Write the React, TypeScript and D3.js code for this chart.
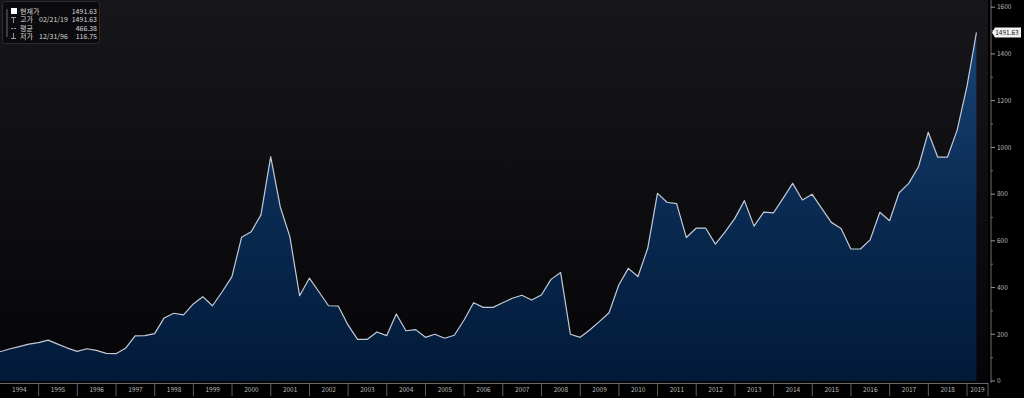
import React from 'react';
import * as d3 from 'd3';

// 분기말 기준 지수 (1993Q4 ~ 2019Q1)
const quarters = [
  '1993Q4',
  '1994Q1', '1994Q2', '1994Q3', '1994Q4',
  '1995Q1', '1995Q2', '1995Q3', '1995Q4',
  '1996Q1', '1996Q2', '1996Q3', '1996Q4',
  '1997Q1', '1997Q2', '1997Q3', '1997Q4',
  '1998Q1', '1998Q2', '1998Q3', '1998Q4',
  '1999Q1', '1999Q2', '1999Q3', '1999Q4',
  '2000Q1', '2000Q2', '2000Q3', '2000Q4',
  '2001Q1', '2001Q2', '2001Q3', '2001Q4',
  '2002Q1', '2002Q2', '2002Q3', '2002Q4',
  '2003Q1', '2003Q2', '2003Q3', '2003Q4',
  '2004Q1', '2004Q2', '2004Q3', '2004Q4',
  '2005Q1', '2005Q2', '2005Q3', '2005Q4',
  '2006Q1', '2006Q2', '2006Q3', '2006Q4',
  '2007Q1', '2007Q2', '2007Q3', '2007Q4',
  '2008Q1', '2008Q2', '2008Q3', '2008Q4',
  '2009Q1', '2009Q2', '2009Q3', '2009Q4',
  '2010Q1', '2010Q2', '2010Q3', '2010Q4',
  '2011Q1', '2011Q2', '2011Q3', '2011Q4',
  '2012Q1', '2012Q2', '2012Q3', '2012Q4',
  '2013Q1', '2013Q2', '2013Q3', '2013Q4',
  '2014Q1', '2014Q2', '2014Q3', '2014Q4',
  '2015Q1', '2015Q2', '2015Q3', '2015Q4',
  '2016Q1', '2016Q2', '2016Q3', '2016Q4',
  '2017Q1', '2017Q2', '2017Q3', '2017Q4',
  '2018Q1', '2018Q2', '2018Q3', '2018Q4',
  '2019Q1',
];

const values = [
  125,
  137, 147, 158, 164,
  175, 158, 141, 127,
  138, 131, 118, 116.75,
  140, 193, 194, 203,
  270, 290, 283, 330,
  361, 322, 382, 447,
  615, 639, 711, 960,
  746, 618, 365, 440,
  382, 322, 321, 240,
  178, 178, 210, 194,
  287, 215, 220, 187,
  200, 183, 196, 261,
  335, 315, 315, 335,
  354, 367, 347, 368,
  435, 464, 200, 187,
  218, 254, 292, 411,
  482, 447, 568, 803,
  765, 759, 614, 654,
  654, 586, 638, 696,
  772, 663, 723, 720,
  782, 846, 775, 799,
  739, 679, 653, 565,
  565, 604, 722, 686,
  806, 846, 917, 1065,
  958, 958, 1074, 1260,
  1491.63,
];

const years = [
  '1994', '1995', '1996', '1997', '1998', '1999', '2000', '2001', '2002',
  '2003', '2004', '2005', '2006', '2007', '2008', '2009', '2010', '2011',
  '2012', '2013', '2014', '2015', '2016', '2017', '2018', '2019',
];

const yTicks = [0, 200, 400, 600, 800, 1000, 1200, 1400, 1600];

const legendRows = [
  { name: '현재가', date: '', value: '1491.63' },
  { name: '고가', date: '02/21/19', value: '1491.63' },
  { name: '평균', date: '', value: '466.38' },
  { name: '저가', date: '12/31/96', value: '116.75' },
];

const lastLabel = '1491.63';

const W = 1024;
const H = 400;
const plotRight = 988;
const plotBottom = 383;
const axisX = 991;
const font = "'Noto Sans CJK KR', 'DejaVu Sans', sans-serif";

const parseQ = (q: string) => {
  const y = +q.slice(0, 4);
  const n = +q.slice(5);
  return new Date(y, n * 3, 0); // 분기 마지막 날
};

const data = quarters.map((q, i) => ({ date: parseQ(q), value: values[i] }));

const App: React.FC = () => {
  const x = d3.scaleTime()
    .domain([new Date(1994, 0, 1), new Date(2019, 0, 1)])
    .range([0, 967]);
  const y = d3.scaleLinear().domain([0, 1600]).range([381, 7.2]);

  const area = d3.area<any>()
    .x(d => x(d.date))
    .y0(y(0))
    .y1(d => y(d.value));
  const line = d3.line<any>()
    .x(d => x(d.date))
    .y(d => y(d.value));

  const minorTicks = y.ticks(16).filter(t => !yTicks.includes(t));
  const last = data[data.length - 1];
  const ly = y(last.value);

  return (
    <>
      <style>{'body{margin:0;background:#fff}'}</style>
      <svg width={W} height={H} style={{ display: 'block', fontFamily: font }}>
        <defs>
          <linearGradient id="bg" x1="0" y1="0" x2="0" y2={plotBottom} gradientUnits="userSpaceOnUse">
            <stop offset="0" stopColor="#17171b" />
            <stop offset="1" stopColor="#050507" />
          </linearGradient>
          <linearGradient id="fill" x1="0" y1="0" x2="0" y2={381} gradientUnits="userSpaceOnUse">
            <stop offset="0" stopColor="#1b4a7e" />
            <stop offset="0.5" stopColor="#0b2c55" />
            <stop offset="1" stopColor="#021a38" />
          </linearGradient>
        </defs>

        <rect x={0} y={0} width={W} height={398} fill="#000" />
        <rect x={0} y={0} width={plotRight} height={plotBottom} fill="url(#bg)" />

        <path d={area(data) as string} fill="url(#fill)" />
        <path d={line(data) as string} fill="none" stroke="#c3cad6" strokeWidth={1.2} strokeLinejoin="round" />

        {/* x축 연도 */}
        <line x1={0} x2={plotRight} y1={plotBottom + 0.5} y2={plotBottom + 0.5} stroke="#6a6a6a" />
        {years.map(yr => {
          const x0 = x(new Date(+yr, 0, 1));
          const x1 = Math.min(x(new Date(+yr + 1, 0, 1)), plotRight);
          return (
            <g key={yr}>
              {+yr > 1994 && (
                <line x1={x0} x2={x0} y1={plotBottom} y2={396} stroke="#777" strokeWidth={0.8} />
              )}
              <text x={(x0 + x1) / 2} y={392} fontSize={6.5} fill="#b8b8b8" textAnchor="middle">{yr}</text>
            </g>
          );
        })}
        <line x1={plotRight} x2={plotRight} y1={plotBottom} y2={396} stroke="#777" strokeWidth={0.8} />

        {/* y축 */}
        <line x1={axisX} x2={axisX} y1={0} y2={plotBottom} stroke="#8a8a8a" strokeWidth={0.8} />
        {minorTicks.map(t => (
          <line key={'m' + t} x1={axisX} x2={axisX + 2} y1={y(t)} y2={y(t)} stroke="#8a8a8a" strokeWidth={0.8} />
        ))}
        {yTicks.map(t => (
          <g key={t}>
            <line x1={axisX} x2={axisX + 4} y1={y(t)} y2={y(t)} stroke="#aaa" strokeWidth={0.9} />
            <text x={axisX + 6} y={y(t)} dy="0.35em" fontSize={6.5} fill="#b8b8b8">{t}</text>
          </g>
        ))}

        {/* 현재가 라벨 */}
        <path
          d={`M${axisX + 1},${ly} L${axisX + 4},${ly - 5} H1021 V${ly + 5} H${axisX + 4} Z`}
          fill="#f2f2f2"
        />
        <text x={1007} y={ly} dy="0.35em" fontSize={6.5} fill="#111" textAnchor="middle">{lastLabel}</text>

        {/* 범례 */}
        <rect x={2.5} y={1.5} width={97} height={42} rx={3} fill="#0b0b0d" stroke="#2c2c30" />
        <line x1={7} x2={7} y1={9} y2={37} stroke="#888" strokeWidth={0.8} />
        <rect x={11} y={8} width={6} height={6} fill="#fff" />
        {/* 고가 기호 */}
        <line x1={11} x2={16} y1={17.5} y2={17.5} stroke="#bbb" strokeWidth={0.8} />
        <line x1={13.5} x2={13.5} y1={17.5} y2={23} stroke="#bbb" strokeWidth={0.8} />
        {/* 평균 기호 */}
        <line x1={11} x2={17} y1={28.5} y2={28.5} stroke="#bbb" strokeWidth={0.8} strokeDasharray="2,1" />
        {/* 저가 기호 */}
        <line x1={13.5} x2={13.5} y1={33} y2={38.5} stroke="#bbb" strokeWidth={0.8} />
        <line x1={11} x2={16} y1={38.5} y2={38.5} stroke="#bbb" strokeWidth={0.8} />
        {legendRows.map((r, i) => {
          const ty = 11.5 + i * 8.5;
          return (
            <g key={r.name} fontSize={7} fill="#d8d8d8">
              <text x={20} y={ty} dy="0.35em">{r.name}</text>
              {r.date && <text x={39} y={ty} dy="0.35em">{r.date}</text>}
              <text x={97} y={ty} dy="0.35em" textAnchor="end">{r.value}</text>
            </g>
          );
        })}
      </svg>
    </>
  );
};

export default App;
